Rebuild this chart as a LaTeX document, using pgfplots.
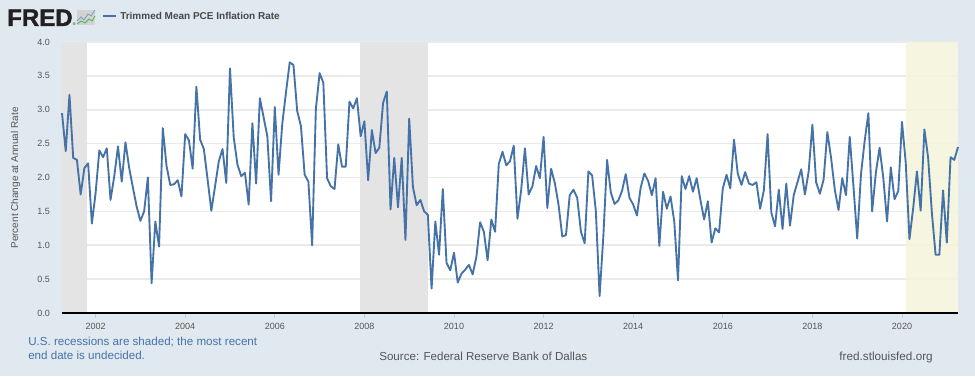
\documentclass[border=0pt]{standalone}
\usepackage{fontspec}
\setmainfont{Liberation Sans}
\newfontfamily\fredfont[BoldFeatures={FakeBold=1.5}]{Liberation Sans}
\usepackage{pgfplots}
\usepackage{pgfplotstable}
\pgfplotsset{compat=1.18}
\definecolor{bgc}{HTML}{E1E9F0}
\definecolor{linec}{HTML}{4572A7}
\definecolor{recc}{HTML}{E4E4E4}
\definecolor{yelc}{HTML}{F5F4DA}
\definecolor{gridc}{HTML}{EAEAEA}
\definecolor{txtc}{HTML}{555555}
\definecolor{fredc}{HTML}{231F20}
\pgfplotstableread{
k v
0 2.95
1 2.39
2 3.22
3 2.29
4 2.26
5 1.75
6 2.14
7 2.21
8 1.32
9 1.77
10 2.40
11 2.30
12 2.43
13 1.67
14 2.02
15 2.46
16 1.94
17 2.52
18 2.14
19 1.85
20 1.57
21 1.36
22 1.50
23 2.00
24 0.44
25 1.35
26 0.98
27 2.73
28 2.17
29 1.89
30 1.90
31 1.96
32 1.72
33 2.64
34 2.55
35 2.13
36 3.34
37 2.56
38 2.42
39 1.97
40 1.51
41 1.87
42 2.24
43 2.42
44 1.92
45 3.61
46 2.59
47 2.19
48 2.02
49 2.07
50 1.60
51 2.80
52 1.91
53 3.17
54 2.89
55 2.61
56 1.65
57 3.04
58 2.04
59 2.79
60 3.26
61 3.70
62 3.66
63 2.98
64 2.76
65 2.04
66 1.94
67 1.00
68 3.01
69 3.54
70 3.40
71 1.99
72 1.87
73 1.83
74 2.49
75 2.16
76 2.16
77 3.12
78 3.02
79 3.17
80 2.61
81 2.83
82 1.96
83 2.70
84 2.36
85 2.44
86 3.10
87 3.27
88 1.53
89 2.29
90 1.56
91 2.29
92 1.08
93 2.87
94 1.86
95 1.59
96 1.67
97 1.50
98 1.45
99 0.36
100 1.35
101 0.86
102 1.83
103 0.74
104 0.63
105 0.89
106 0.45
107 0.58
108 0.64
109 0.71
110 0.57
111 0.83
112 1.34
113 1.20
114 0.78
115 1.38
116 1.20
117 2.20
118 2.38
119 2.18
120 2.24
121 2.47
122 1.39
123 1.82
124 2.43
125 1.75
126 1.87
127 2.17
128 1.99
129 2.60
130 1.55
131 2.13
132 1.92
133 1.60
134 1.13
135 1.15
136 1.74
137 1.82
138 1.70
139 1.20
140 1.03
141 2.09
142 2.03
143 1.50
144 0.25
145 1.13
146 2.26
147 1.78
148 1.61
149 1.66
150 1.80
151 2.05
152 1.70
153 1.60
154 1.44
155 1.85
156 2.06
157 1.95
158 1.74
159 1.99
160 0.99
161 1.79
162 1.54
163 1.72
164 1.35
165 0.48
166 2.02
167 1.83
168 2.02
169 1.79
170 1.99
171 1.67
172 1.38
173 1.65
174 1.04
175 1.25
176 1.19
177 1.84
178 2.04
179 1.84
180 2.56
181 2.06
182 1.89
183 2.08
184 1.91
185 1.89
186 1.93
187 1.54
188 1.81
189 2.64
190 1.48
191 1.28
192 1.82
193 1.24
194 1.91
195 1.29
196 1.74
197 1.93
198 2.12
199 1.75
200 2.09
201 2.78
202 1.93
203 1.76
204 1.97
205 2.67
206 2.29
207 1.82
208 1.52
209 1.99
210 1.74
211 2.60
212 1.87
213 1.10
214 2.04
215 2.54
216 2.95
217 1.50
218 2.07
219 2.44
220 1.99
221 1.35
222 2.15
223 1.68
224 1.80
225 2.82
226 2.22
227 1.09
228 1.55
229 2.09
230 1.51
231 2.71
232 2.29
233 1.48
234 0.86
235 0.86
236 1.81
237 1.04
238 2.30
239 2.26
240 2.45
}\datatable
\begin{document}
\begin{tikzpicture}[x=0.75pt,y=0.75pt]
\path[use as bounding box,fill=bgc] (0,0) rectangle (975,376);
\begin{axis}[
  at={(46.5pt,47.25pt)},anchor=south west,
  scale only axis,width=672pt,height=203.25pt,
  xmin=0,xmax=240,ymin=0,ymax=4,
  clip=false,
  axis background/.style={fill=white},
  axis lines=left,axis line style={-},
  y axis line style={draw=none},
  x axis line style={draw=none},
  xtick={9,33,57,81,105,129,153,177,201,225},
  xticklabels={2002,2004,2006,2008,2010,2012,2014,2016,2018,2020},
  ytick={0,0.5,1,1.5,2,2.5,3,3.5,4},
  major tick length=3.5pt,
  xtick style={draw=gridc!70!gray,line width=0.5pt},
  ytick style={draw=none},
  tick align=outside,
  ymajorgrids,
  major grid style={draw=gridc,line width=1.2pt},
  /pgf/number format/assume math mode=true,
  /pgf/number format/fixed,/pgf/number format/fixed zerofill,/pgf/number format/precision=1,
  tick label style={font=\fontsize{6.75pt}{8pt}\selectfont,text=txtc},
  yticklabel style={xshift=-2pt},
  xticklabel style={yshift=-0.5pt},
]
\addplot[fill=recc,draw=none] coordinates {(0,0)(0,4)(6.6,4)(6.6,0)} --cycle;
\addplot[fill=recc,draw=none] coordinates {(79.7,0)(79.7,4)(98,4)(98,0)} --cycle;
\addplot[fill=yelc,fill opacity=0.85,draw=none] coordinates {(226.1,0)(226.1,4)(240,4)(240,0)} --cycle;
\addplot[black,line width=1.3pt,no markers] coordinates {(0,0)(240,0)};
\addplot[color=linec,line width=1.4pt,line join=round,no markers] table[x=k,y=v] {\datatable};
\end{axis}
% logo
\node[anchor=base west,inner sep=0,text=fredc] at (7,350) {\fontsize{18pt}{18pt}\selectfont\fredfont\bfseries FRED};
\node[anchor=base west,inner sep=0,text=fredc] at (72.5,350) {\fontsize{3pt}{3pt}\selectfont ®};
\fill[gray!35] (77,351) rectangle (95,366);
\draw[line width=0.6pt,color=linec!70] (77,355)--(81,359)--(84,356)--(88,362)--(91,360)--(95,366);
\draw[line width=0.6pt,color=green!45!gray] (77,352)--(81,355)--(85,353)--(89,357)--(92,355)--(95,360);
% legend
\draw[color=linec,line width=1.3pt] (103,360)--(116,360);
\node[anchor=base west,inner sep=0,text=txtc!85!black] at (120,356.5) {\fontsize{7.5pt}{9pt}\selectfont\bfseries Trimmed Mean PCE Inflation Rate};
% y label
\node[rotate=90,anchor=center,inner sep=0,text=txtc] at (15.5,198) {\fontsize{7.5pt}{9pt}\selectfont Percent Change at Annual Rate};
% footer
\node[anchor=base west,inner sep=0,text=linec] at (28,31) {\fontsize{8.7pt}{11pt}\selectfont U.S. recessions are shaded; the most recent};
\node[anchor=base west,inner sep=0,text=linec] at (28,17) {\fontsize{8.7pt}{11pt}\selectfont end date is undecided.};
\node[anchor=base west,inner sep=0,text=txtc] at (379,16) {\fontsize{8.7pt}{11pt}\selectfont Source: Federal Reserve Bank of Dallas};
\node[anchor=base east,inner sep=0,text=txtc] at (933,16) {\fontsize{8.8pt}{11pt}\selectfont fred.stlouisfed.org};
\end{tikzpicture}
\end{document}
